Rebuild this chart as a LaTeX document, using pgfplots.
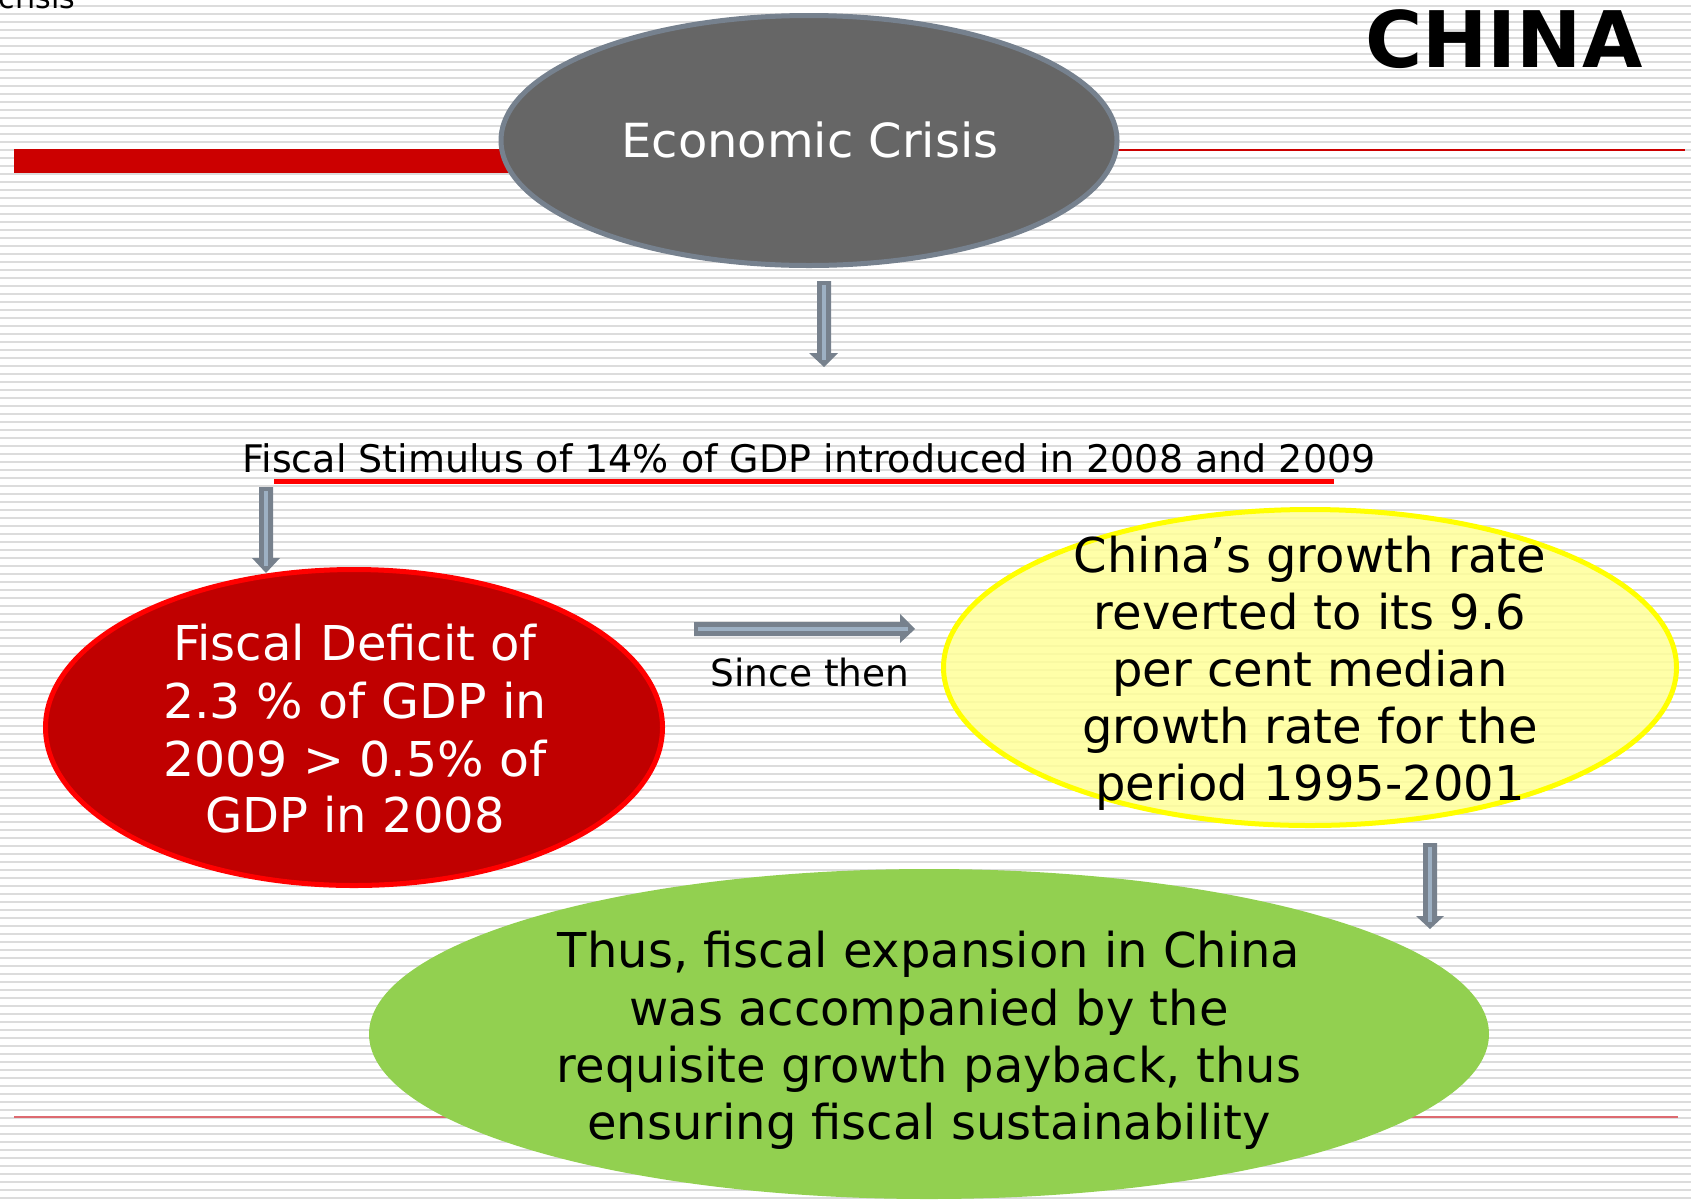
\documentclass[border=0pt]{standalone}
\usepackage{fontspec}
\setmainfont{DejaVu Sans}
\usepackage{pgfplots}
\pgfplotsset{compat=1.18}
\definecolor{stripe}{HTML}{DCDCDC}
\definecolor{barred}{HTML}{CC0000}
\definecolor{lowline}{HTML}{DD6A70}
\definecolor{ellgray}{HTML}{666666}
\definecolor{ellborder}{HTML}{76818E}
\definecolor{arrowc}{HTML}{77818D}
\definecolor{arrowin}{HTML}{9DB0C3}
\definecolor{redfill}{HTML}{C00000}
\definecolor{redborder}{HTML}{FF0000}
\definecolor{yelfill}{HTML}{FFFF99}
\definecolor{yelborder}{HTML}{FFFF00}
\definecolor{greenfill}{HTML}{92D050}
\newcommand{\bigtxt}{\fontsize{48}{57}\selectfont}
\newcommand{\midtxt}{\fontsize{38}{46}\selectfont}
\begin{document}
\begin{tikzpicture}
\begin{axis}[
  width=1691pt, height=1203pt, scale only axis,
  xmin=0, xmax=1691, ymin=0, ymax=1203, y dir=reverse,
  hide axis,
  clip=true,
]
% background stripes
\pgfplotsinvokeforeach{5.7,13.7,...,1198}{
  \draw[line width=2pt, stripe] (axis cs:0,#1) -- (axis cs:1691,#1);
}
% top-left fragment
\node[anchor=base east, font=\fontsize{30}{36}\selectfont] at (axis cs:79,8.5) {crisis};
% decorative lines
\fill[barred] (axis cs:14,149) rectangle (axis cs:620,173);
\draw[line width=2.5pt, barred] (axis cs:1100,150) -- (axis cs:1685,150);
\draw[line width=2.5pt, lowline] (axis cs:14,1117) -- (axis cs:1678,1117);
% CHINA
\node[anchor=base, font=\fontsize{78}{90}\selectfont\bfseries] at (axis cs:1504,67) {CHINA};
% gray ellipse
\draw[line width=5pt, draw=ellborder, fill=ellgray] (axis cs:809,140.5) ellipse [x radius=308pt, y radius=125pt];
\node[anchor=base, text=white, font=\fontsize{47}{56}\selectfont, xscale=1.02] at (axis cs:810,157) {Economic Crisis};
% arrow 1
\fill[arrowc] (axis cs:817,281) -- (axis cs:831,281) -- (axis cs:831,353) -- (axis cs:838,353) -- (axis cs:824,367) -- (axis cs:809,353) -- (axis cs:817,353) -- cycle;
\draw[line width=4pt, arrowin] (axis cs:824,285) -- (axis cs:824,360);
% fiscal stimulus
\draw[line width=5pt, redborder] (axis cs:274,481.5) -- (axis cs:1334,481.5);
\node[anchor=base, font=\midtxt] at (axis cs:809,472) {Fiscal Stimulus of 14\% of GDP introduced in 2008 and 2009};
% arrow 2
\fill[arrowc] (axis cs:259,487) -- (axis cs:273,487) -- (axis cs:273,558) -- (axis cs:280,558) -- (axis cs:266,573) -- (axis cs:252,558) -- (axis cs:259,558) -- cycle;
\draw[line width=4pt, arrowin] (axis cs:266,491) -- (axis cs:266,566);
% red ellipse
\draw[line width=5pt, draw=redborder, fill=redfill] (axis cs:354,727.5) ellipse [x radius=308.5pt, y radius=158pt];
\node[anchor=base, text=white, font=\bigtxt] at (axis cs:355,660) {Fiscal Deficit of};
\node[anchor=base, text=white, font=\bigtxt, xscale=1.02] at (axis cs:355,718) {2.3 \% of GDP in};
\node[anchor=base, text=white, font=\bigtxt, xscale=1.02] at (axis cs:355,776) {2009 > 0.5\% of};
\node[anchor=base, text=white, font=\bigtxt] at (axis cs:355,832) {GDP in 2008};
% arrow 3
\fill[arrowc] (axis cs:694,622) -- (axis cs:900,622) -- (axis cs:900,614) -- (axis cs:915,629) -- (axis cs:900,643) -- (axis cs:900,636) -- (axis cs:694,636) -- cycle;
\draw[line width=4pt, arrowin] (axis cs:698,629) -- (axis cs:908,629);
\node[anchor=base, font=\fontsize{37.5}{45}\selectfont] at (axis cs:810,686) {Since then};
% yellow ellipse
\fill[yelfill, fill opacity=0.85] (axis cs:1310,667.5) ellipse [x radius=366.5pt, y radius=158pt];
\draw[line width=5pt, yelborder] (axis cs:1310,667.5) ellipse [x radius=366.5pt, y radius=158pt];
\node[anchor=base, font=\bigtxt] at (axis cs:1310,572) {China’s growth rate};
\node[anchor=base, font=\bigtxt] at (axis cs:1310,629) {reverted to its 9.6};
\node[anchor=base, font=\bigtxt] at (axis cs:1310,686) {per cent median};
\node[anchor=base, font=\bigtxt] at (axis cs:1310,743) {growth rate for the};
\node[anchor=base, font=\bigtxt] at (axis cs:1310,800) {period 1995-2001};
% arrow 4
\fill[arrowc] (axis cs:1423,843) -- (axis cs:1437,843) -- (axis cs:1437,916) -- (axis cs:1444,916) -- (axis cs:1430,929) -- (axis cs:1416,916) -- (axis cs:1423,916) -- cycle;
\draw[line width=4pt, arrowin] (axis cs:1430,847) -- (axis cs:1430,922);
% green ellipse
\fill[greenfill] (axis cs:929,1034) ellipse [x radius=560pt, y radius=165pt];
\node[anchor=base, font=\bigtxt] at (axis cs:929,967) {Thus, fiscal expansion in China};
\node[anchor=base, font=\bigtxt] at (axis cs:929,1025) {was accompanied by the};
\node[anchor=base, font=\bigtxt] at (axis cs:929,1082) {requisite growth payback, thus};
\node[anchor=base, font=\bigtxt] at (axis cs:929,1139) {ensuring fiscal sustainability};
\end{axis}
\pgfresetboundingbox
\path (current axis.south west) rectangle (current axis.north east);
\end{tikzpicture}
\end{document}
